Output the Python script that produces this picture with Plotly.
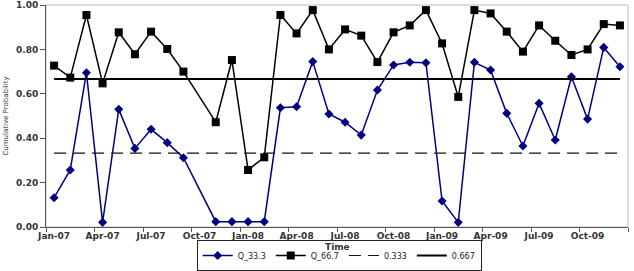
import plotly.graph_objects as go

months = ["Jan-07","Feb-07","Mar-07","Apr-07","May-07","Jun-07","Jul-07","Aug-07","Sep-07","Oct-07","Nov-07","Dec-07",
          "Jan-08","Feb-08","Mar-08","Apr-08","May-08","Jun-08","Jul-08","Aug-08","Sep-08","Oct-08","Nov-08","Dec-08",
          "Jan-09","Feb-09","Mar-09","Apr-09","May-09","Jun-09","Jul-09","Aug-09","Sep-09","Oct-09","Nov-09","Dec-09"]

q33 = [0.132, 0.257, 0.695, 0.021, 0.530, 0.354, 0.440, 0.380, 0.312, None, 0.024, 0.024,
       0.024, 0.024, 0.537, 0.542, 0.745, 0.509, 0.472, 0.414, 0.617, 0.730, 0.742, 0.740,
       0.117, 0.021, 0.742, 0.707, 0.512, 0.365, 0.557, 0.392, 0.677, 0.486, 0.809, 0.722]

q67 = [0.727, 0.673, 0.955, 0.647, 0.877, 0.778, 0.880, 0.802, 0.700, None, 0.472, 0.752,
       0.257, 0.314, 0.955, 0.872, 0.977, 0.800, 0.890, 0.862, 0.743, 0.877, 0.908, 0.977,
       0.827, 0.586, 0.977, 0.962, 0.880, 0.790, 0.908, 0.839, 0.775, 0.800, 0.914, 0.908]

ref_low = [0.333] * len(months)
ref_high = [0.667] * len(months)

tick_months = months[::3]
y_ticks = [0.0, 0.2, 0.4, 0.6, 0.8, 1.0]

fig = go.Figure()
fig.add_trace(go.Scatter(x=months, y=q33, name="Q_33.3", mode="lines+markers", connectgaps=True,
                         line=dict(color="#000080", width=1.5),
                         marker=dict(symbol="diamond", size=7, color="#000080")))
fig.add_trace(go.Scatter(x=months, y=q67, name="Q_66.7", mode="lines+markers", connectgaps=True,
                         line=dict(color="#000000", width=1.5),
                         marker=dict(symbol="square", size=8, color="#000000")))
fig.add_trace(go.Scatter(x=months, y=ref_low, name="0.333", mode="lines",
                         line=dict(color="#111111", width=1.2, dash="12px,7px")))
fig.add_trace(go.Scatter(x=months, y=ref_high, name="0.667", mode="lines",
                         line=dict(color="#000000", width=2)))

# tick marks at category boundaries
bounds = [-0.5 + 3 * k for k in range(13)]
fig.add_trace(go.Scatter(x=[None], y=[None], xaxis="x2", showlegend=False, hoverinfo="skip"))

fig.update_layout(
    width=634, height=271,
    margin=dict(l=46, r=6, t=5, b=44, autoexpand=False),
    paper_bgcolor="white", plot_bgcolor="white",
    font=dict(family="DejaVu Sans", color="#222222"),
    showlegend=True,
    legend=dict(orientation="h", xref="container", yref="container",
                x=0.535, xanchor="center", y=-0.012, yanchor="bottom",
                bordercolor="#222222", borderwidth=1, font=dict(size=8, family="DejaVu Sans"),
                tracegroupgap=0, traceorder="normal", itemwidth=30),
    xaxis=dict(type="category", categoryorder="array", categoryarray=months,
               range=[-0.5, 35.5], tickvals=tick_months, ticktext=tick_months,
               ticks="", showline=True, linecolor="#555555", linewidth=1,
               showgrid=False, zeroline=False, automargin=False,
               tickfont=dict(size=9, family="DejaVu Sans", weight="bold", color="#333333")),
    xaxis2=dict(overlaying="x", anchor="y", range=[-0.5, 35.5], tickvals=bounds,
                ticks="outside", ticklen=4, tickcolor="#555555", showticklabels=False,
                showline=False, showgrid=False, zeroline=False),
    yaxis=dict(range=[0, 1], tickvals=y_ticks, tickformat=".2f", ticks="outside", ticklen=5,
               tickcolor="#555555", showline=True, linecolor="#555555", linewidth=1,
               showgrid=False, zeroline=False, automargin=False,
               tickfont=dict(size=9, family="DejaVu Sans", weight="bold", color="#333333"),
               title=dict(text="Cumulative Probability", font=dict(size=7, color="#333333"), standoff=6)),
    annotations=[dict(text="<b>Time</b>", xref="paper", yref="paper", x=0.5, y=-0.09,
                      xanchor="center", yanchor="middle", showarrow=False,
                      font=dict(size=9, family="DejaVu Sans", color="#333333"))],
    shapes=[dict(type="rect", xref="paper", yref="paper", x0=0, x1=1, y0=0, y1=1,
                 line=dict(color="#bbbbbb", width=1), layer="below")],
)

fig.write_html("out.html")
